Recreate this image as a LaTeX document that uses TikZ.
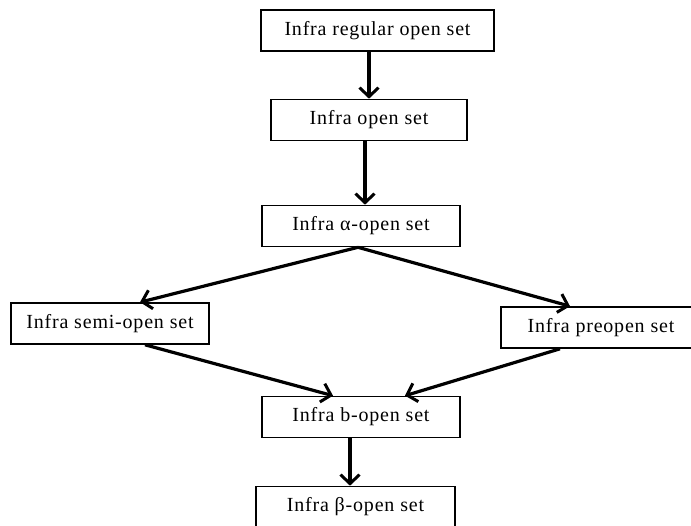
\documentclass[tikz,border=0pt]{standalone}
\usepackage{fontspec}
\setmainfont[LetterSpace=4]{Liberation Serif}
\usepackage{tikz}
\usetikzlibrary{arrows.meta}

\begin{document}
\begin{tikzpicture}[x=1pt, y=-1pt,
  box/.style={draw, line width=1.6pt, minimum height=41pt, inner sep=0pt,
    font=\fontsize{20}{23}\selectfont},
  flow/.style={line width=3.2pt, -{Straight Barb[length=9pt, width=19pt, line width=3pt]}}]
    \useasboundingbox (0,0) rectangle (691,525);
    \node[box, minimum width=233pt](reg) at (377.5,30.5){Infra regular open set};
    \node[box, minimum width=196pt](open) at (369,120){Infra open set};
    \node[box, minimum width=198pt](alpha) at (361,226){Infra α-open set};
    \node[box, minimum width=198pt](semi) at (110,323.5){Infra semi-open set};
    \node[box, minimum width=200pt](pre) at (601,327.5){Infra preopen set};
    \node[box, minimum width=198pt](b) at (361,417){Infra b-open set};
    \node[box, minimum width=199pt](beta) at (355.5,507){Infra β-open set};
    % arrows
    \draw[flow] (open.north |- reg.south) -- (open.north);
    \draw[flow] ([xshift=-4pt]open.south) -- ([xshift=4pt]alpha.north);
    \draw[flow] ([xshift=-3pt]alpha.south) -- ([xshift=30pt]semi.north);
    \draw[flow] ([xshift=-3pt]alpha.south) -- ([xshift=-31pt]pre.north);
    \draw[flow] ([xshift=35pt]semi.south) -- ([xshift=-28pt]b.north);
    \draw[flow] ([xshift=-41pt]pre.south) -- ([xshift=44pt]b.north);
    \draw[flow] ([xshift=-11pt]b.south) -- ([xshift=-11pt]b.south |- beta.north);
\end{tikzpicture}
\end{document}
